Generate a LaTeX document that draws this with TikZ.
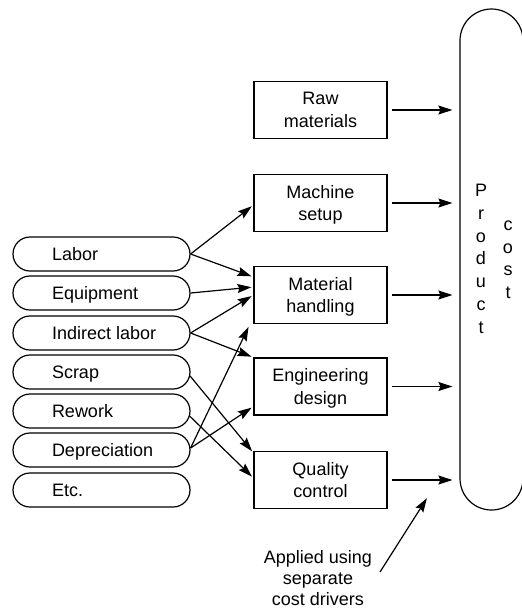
\documentclass[tikz,border=0pt]{standalone}
\usepackage{fontspec}
\setmainfont{Liberation Sans}
\usetikzlibrary{arrows.meta,calc}
\newcommand\pilltext[1]{\makebox[99pt][l]{#1}}
\begin{document}
\begin{tikzpicture}[x=1pt,y=-1pt,
  font=\fontsize{18}{22.75}\selectfont,
  line width=1.2pt,
  pill/.style={draw, rounded corners=17pt, minimum width=177pt, minimum height=34pt,
    inner sep=0pt, text height=13pt, text depth=0pt},
  stage/.style={draw, minimum width=133pt, minimum height=57pt, inner sep=0pt,
    align=center, text depth=0pt},
  tip/.style={-{Stealth[length=14pt,width=9pt,inset=2pt]}},
  feed/.style={tip, shorten >=2pt},
  post/.style={tip, shorten <=4pt, shorten >=7pt}
]
\useasboundingbox (0,0) rectangle (522,611);

% resources
\node[pill] (labor)    at (101.5,254) {\pilltext{Labor}};
\node[pill] (equip)    at (101.5,293) {\pilltext{Equipment}};
\node[pill] (indirect) at (101.5,333) {\pilltext{Indirect labor}};
\node[pill] (scrap)    at (101.5,372) {\pilltext{Scrap}};
\node[pill] (rework)   at (101.5,411) {\pilltext{Rework}};
\node[pill] (deprec)   at (101.5,450) {\pilltext{Depreciation}};
\node[pill] (etc)      at (101.5,490) {\pilltext{Etc.}};

% activities
\node[stage] (raw)         at (320.5,110)   {Raw\\materials};
\node[stage] (machine)     at (320.5,203)   {Machine\\setup};
\node[stage] (material)    at (320.5,295)   {Material\\handling};
\node[stage] (engineering) at (320.5,386.5) {Engineering\\design};
\node[stage] (quality)     at (320.5,480)   {Quality\\control};

% product cost column
\node[draw, rounded corners=31.5pt, minimum width=63pt, minimum height=501pt, inner sep=0pt]
  (cost) at (491.5,259.5) {};
\node[align=center, inner sep=0pt] (prodword) at (481,258.8) {P\\r\\o\\d\\u\\c\\t};
\node[align=center, inner sep=0pt] (costword) at (508,259.8) {c\\o\\s\\t};

% resources to activities
\draw[feed] (labor.east) -- ($(machine.west)+(0,2)$);
\draw[feed] (labor.east) -- ($(material.west)+(0,-18)$);
\draw[feed] (equip.east) -- ($(material.west)+(0,-8)$);
\draw[feed] (indirect.east) -- (material.west);
\draw[feed] (indirect.east) -- (engineering.north west);
\draw[feed] ($(scrap.east)+(-0.5,4)$) -- ($(quality.north west)+(0,2)$);
\draw[feed] ($(rework.east)+(-1,5)$) -- ($(quality.west)+(0,-2)$);
\draw[feed] ($(deprec.east)+(0,-2)$) -- ($(material.south west)+(-4,1)$);
\draw[feed] ($(deprec.east)+(0,-2)$) -- ($(engineering.west)+(0,20)$);

% activities to product cost
\foreach \s in {raw,machine,material,engineering,quality}
  \draw[post] (\s.east) -- (\s.east -| cost.west);

% note
\node[align=center, inner sep=0pt, font=\fontsize{18}{21}\selectfont]
  (applied) at (318,578.5) {Applied using\\separate\\cost drivers};
\coordinate (notetail) at (380,572);
\coordinate (notetip) at (428,496.5);
\draw[feed] (notetail) -- (notetip);
\end{tikzpicture}
\end{document}
